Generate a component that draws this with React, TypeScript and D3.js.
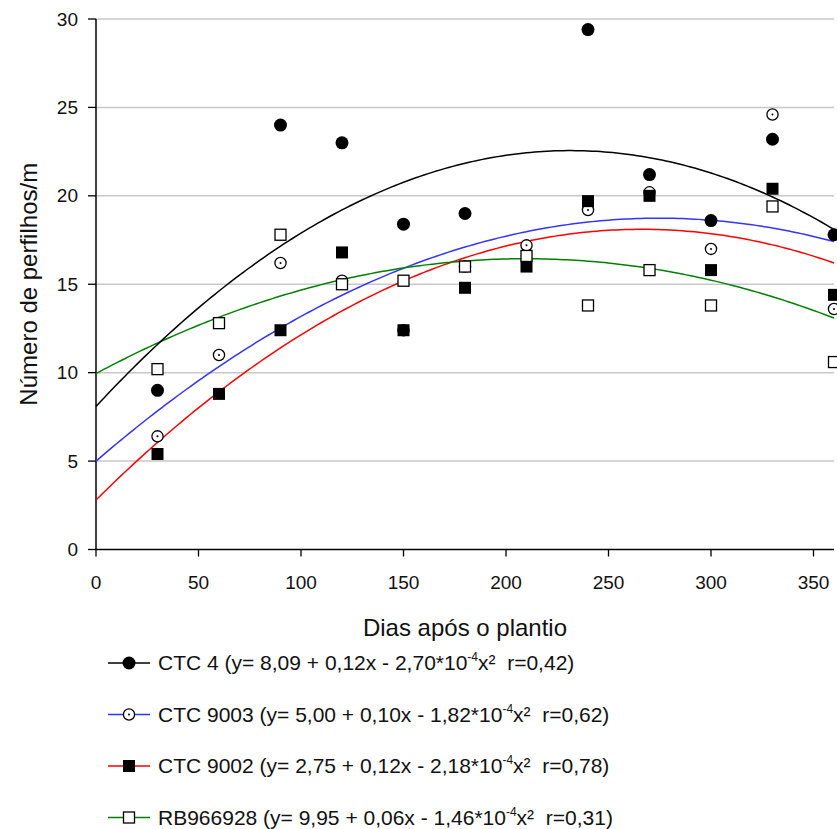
import * as d3 from "d3";

// dias após o plantio
const days = [30, 60, 90, 120, 150, 180, 210, 240, 270, 300, 330, 360];

// número de perfilhos/m (null = not shown)
const ctc4 = [9.0, null, 24.0, 23.0, 18.4, 19.0, null, 29.4, 21.2, 18.6, 23.2, 17.8];
const ctc9003 = [6.4, 11.0, 16.2, 15.2, 12.4, 16.0, 17.2, 19.2, 20.2, 17.0, 24.6, 13.6];
const ctc9002 = [5.4, 8.8, 12.4, 16.8, 12.4, 14.8, 16.0, 19.7, 20.0, 15.8, 20.4, 14.4];
const rb966928 = [10.2, 12.8, 17.8, 15.0, 15.2, 16.0, 16.6, 13.8, 15.8, 13.8, 19.4, 10.6];

// fitted quadratic a + b x + c x^2 (as drawn)
const fitCtc4 = [8.09, 0.125, -2.7e-4];
const fitCtc9003 = [5.0, 0.1, -1.82e-4];
const fitCtc9002 = [2.8, 0.115, -2.16e-4];
const fitRb = [9.95, 0.062, -1.48e-4];

const xTicks = [0, 50, 100, 150, 200, 250, 300, 350];
const yTicks = [0, 5, 10, 15, 20, 25, 30];

type Marker = "dot" | "ring" | "square" | "box";

const series: { name: string; values: (number | null)[]; fit: number[]; color: string; marker: Marker; label: string }[] = [
  { name: "CTC 9003", values: ctc9003, fit: fitCtc9003, color: "#3333ff", marker: "ring", label: "CTC 9003 (y= 5,00 + 0,10x - 1,82*10" },
  { name: "CTC 9002", values: ctc9002, fit: fitCtc9002, color: "#ff0000", marker: "square", label: "CTC 9002 (y= 2,75 + 0,12x - 2,18*10" },
  { name: "RB966928", values: rb966928, fit: fitRb, color: "#008000", marker: "box", label: "RB966928 (y= 9,95 + 0,06x - 1,46*10" },
  { name: "CTC 4", values: ctc4, fit: fitCtc4, color: "#000000", marker: "dot", label: "CTC 4 (y= 8,09 + 0,12x - 2,70*10" },
];

const legendOrder = ["CTC 4", "CTC 9003", "CTC 9002", "RB966928"];
const legendR = ["r=0,42)", "r=0,62)", "r=0,78)", "r=0,31)"];

const font = "'Liberation Sans', Arial, sans-serif";

function MarkerShape({ type, x, y }: { type: Marker; x: number; y: number }) {
  if (type === "dot") return <circle cx={x} cy={y} r={6.5} fill="#000" />;
  if (type === "ring")
    return (
      <g>
        <circle cx={x} cy={y} r={5.6} fill="#fff" stroke="#000" strokeWidth={1.3} />
        <circle cx={x} cy={y} r={1} fill="#000" />
      </g>
    );
  if (type === "square") return <rect x={x - 6} y={y - 6} width={12} height={12} fill="#000" />;
  return <rect x={x - 5.5} y={y - 5.5} width={11} height={11} fill="#fff" stroke="#000" strokeWidth={1.3} />;
}

export default function App() {
  const width = 837;
  const height = 829;
  const x = d3.scaleLinear().domain([0, 360]).range([96, 834]);
  const y = d3.scaleLinear().domain([0, 30]).range([549.5, 19]);

  const xs = d3.range(0, 360.5, 2);
  const line = d3
    .line<number[]>()
    .x((d) => x(d[0]))
    .y((d) => y(d[1]));

  return (
    <svg width={width} height={height} style={{ position: "absolute", left: 0, top: 0, background: "#fff" }} fontFamily={font}>
      {/* grid */}
      {yTicks.slice(1).map((t) => (
        <line key={t} x1={x(0)} x2={x(360)} y1={y(t)} y2={y(t)} stroke="#c8c8c8" strokeWidth={1.5} />
      ))}
      {/* axes */}
      <line x1={x(0)} x2={x(0)} y1={y(30)} y2={y(0)} stroke="#000" strokeWidth={1.5} />
      <line x1={x(0)} x2={x(360)} y1={y(0)} y2={y(0)} stroke="#000" strokeWidth={1.5} />
      {yTicks.map((t) => (
        <g key={t}>
          <line x1={x(0) - 8} x2={x(0)} y1={y(t)} y2={y(t)} stroke="#000" strokeWidth={1.3} />
          <text x={x(0) - 18} y={y(t)} dy="0.35em" textAnchor="end" fontSize={19} fill="#111">
            {t}
          </text>
        </g>
      ))}
      {xTicks.map((t) => (
        <g key={t}>
          <line x1={x(t)} x2={x(t)} y1={y(0)} y2={y(0) + 7} stroke="#000" strokeWidth={1.3} />
          <text x={x(t)} y={y(0) + 39} textAnchor="middle" fontSize={19} fill="#111">
            {t}
          </text>
        </g>
      ))}
      <text x={465} y={636} textAnchor="middle" fontSize={24} fill="#111">
        Dias após o plantio
      </text>
      <text transform={`translate(37,${y(15)}) rotate(-90)`} textAnchor="middle" fontSize={24} fill="#111">
        Número de perfilhos/m
      </text>

      {/* curves */}
      {series.map((s) => (
        <path
          key={s.name}
          d={line(xs.map((v) => [v, s.fit[0] + s.fit[1] * v + s.fit[2] * v * v])) || ""}
          fill="none"
          stroke={s.color}
          strokeWidth={1.5}
        />
      ))}
      {/* points */}
      {series.map((s) => (
        <g key={s.name}>
          {s.values.map((v, i) =>
            v == null ? null : <MarkerShape key={i} type={s.marker} x={x(days[i])} y={y(v)} />
          )}
        </g>
      ))}

      {/* legend */}
      {legendOrder.map((name, i) => {
        const s = series.find((d) => d.name === name)!;
        const ly = 663 + i * 51.5;
        return (
          <g key={name}>
            <line x1={108} x2={150} y1={ly} y2={ly} stroke={s.color} strokeWidth={1.5} />
            <MarkerShape type={s.marker} x={129} y={ly} />
            <text x={158} y={ly} dy="0.35em" fontSize={21} fill="#111">
              {s.label}
              <tspan fontSize={12} dy="-0.75em">-4</tspan>
              <tspan dy="0.43em">{"x²\u00a0\u00a0" + legendR[i]}</tspan>
            </text>
          </g>
        );
      })}
    </svg>
  );
}
